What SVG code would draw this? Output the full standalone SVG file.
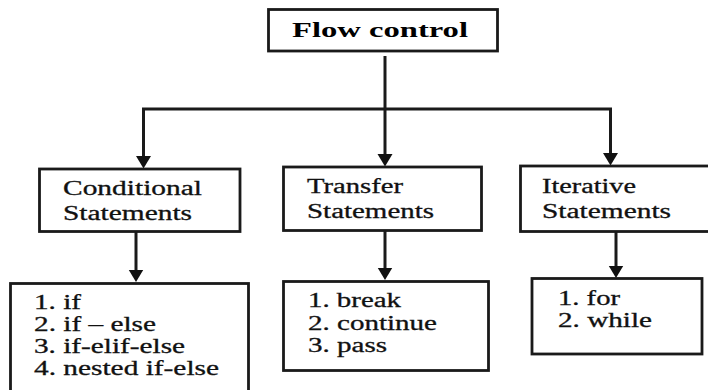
<svg xmlns="http://www.w3.org/2000/svg" width="708" height="390" viewBox="0 0 708 390">
<defs>
<style>
.box{fill:#fff;stroke:#1a1a1a;stroke-width:2.8}
.c{fill:none;stroke:#1a1a1a;stroke-width:3}
.t{stroke:#111;stroke-width:0.3}
</style>
<marker id="ah" markerUnits="userSpaceOnUse" markerWidth="14" markerHeight="17" refX="1" refY="7.5" orient="auto">
<path d="M0,0 L12.5,7.5 L0,15 Z" fill="#111"/>
</marker>
</defs>
<rect width="708" height="390" fill="#fff"/>
<g id="connectors">
<path class="c" d="M385,56 V109"/>
<path class="c" d="M142,109 H612"/>
<path class="c" d="M143.5,109 V157" marker-end="url(#ah)"/>
<path class="c" d="M385,109 V155" marker-end="url(#ah)"/>
<path class="c" d="M610.5,109 V154" marker-end="url(#ah)"/>
<path class="c" d="M136,232 V270.5" marker-end="url(#ah)"/>
<path class="c" d="M385,231 V268.5" marker-end="url(#ah)"/>
<path class="c" d="M616,232 V266.5" marker-end="url(#ah)"/>
</g>
<g font-family="Liberation Serif, Times New Roman, serif" font-size="20" fill="#111">
<g id="flow-control">
<rect class="box" x="268.5" y="9.5" width="229" height="41.5"/>
<text x="292" y="37" font-size="21" font-weight="bold" fill="#000" textLength="176" lengthAdjust="spacingAndGlyphs">Flow control</text>
</g>
<g id="conditional">
<rect class="box" x="39.5" y="169" width="200.5" height="62.5"/>
<text class="t" x="63" y="195" textLength="139" lengthAdjust="spacingAndGlyphs">Conditional</text>
<text class="t" x="63" y="220" textLength="129" lengthAdjust="spacingAndGlyphs">Statements</text>
</g>
<g id="transfer">
<rect class="box" x="283.5" y="167" width="198" height="63.5"/>
<text class="t" x="307" y="193" textLength="96" lengthAdjust="spacingAndGlyphs">Transfer</text>
<text class="t" x="307" y="218" textLength="127" lengthAdjust="spacingAndGlyphs">Statements</text>
</g>
<g id="iterative">
<rect class="box" x="520.5" y="166" width="200" height="65.5"/>
<text class="t" x="542" y="193" textLength="94" lengthAdjust="spacingAndGlyphs">Iterative</text>
<text class="t" x="542" y="218" textLength="129" lengthAdjust="spacingAndGlyphs">Statements</text>
</g>
<g id="conditional-list">
<rect class="box" x="10.5" y="283.5" width="238" height="120"/>
<text class="t" x="34" y="309" textLength="47" lengthAdjust="spacingAndGlyphs">1. if</text>
<text class="t" x="34" y="331" textLength="122" lengthAdjust="spacingAndGlyphs">2. if – else</text>
<text class="t" x="34" y="353" textLength="151" lengthAdjust="spacingAndGlyphs">3. if-elif-else</text>
<text class="t" x="34" y="375" textLength="185" lengthAdjust="spacingAndGlyphs">4. nested if-else</text>
</g>
<g id="transfer-list">
<rect class="box" x="283.5" y="281.5" width="205" height="89"/>
<text class="t" x="308" y="307" textLength="93" lengthAdjust="spacingAndGlyphs">1. break</text>
<text class="t" x="308" y="330" textLength="129" lengthAdjust="spacingAndGlyphs">2. continue</text>
<text class="t" x="308" y="351.5" textLength="79" lengthAdjust="spacingAndGlyphs">3. pass</text>
</g>
<g id="iterative-list">
<rect class="box" x="532" y="278.5" width="170" height="75.5"/>
<text class="t" x="558" y="305" textLength="62" lengthAdjust="spacingAndGlyphs">1. for</text>
<text class="t" x="558" y="327" textLength="94" lengthAdjust="spacingAndGlyphs">2. while</text>
</g>
</g>
</svg>
